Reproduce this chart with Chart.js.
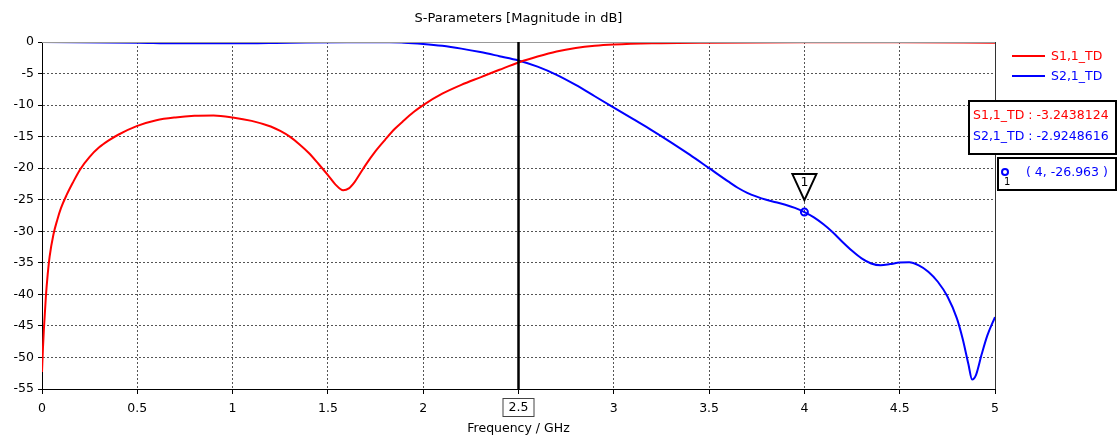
<!DOCTYPE html>
<html>
<head>
<meta charset="utf-8">
<script src="https://cdn.jsdelivr.net/npm/chart.js@4/dist/chart.umd.min.js"></script>
<style>
  html, body { margin: 0; padding: 0; background: #fff; }
  #wrap { position: relative; width: 1118px; height: 439px; }
</style>
</head>
<body>
<div id="wrap"><canvas id="c" width="1118" height="439"></canvas></div>
<script>
// S1,1 samples (GHz, dB)
const s11Freq = [0, 0.005, 0.01, 0.02, 0.03, 0.04, 0.06, 0.08, 0.1, 0.13, 0.16, 0.2, 0.25, 0.3, 0.35, 0.4, 0.5, 0.6, 0.7, 0.8, 0.9, 1.0, 1.1, 1.2, 1.25, 1.3, 1.35, 1.4, 1.45, 1.5, 1.54, 1.58, 1.61, 1.64, 1.67, 1.7, 1.75, 1.8, 1.85, 1.9, 1.95, 2.0, 2.1, 2.2, 2.3, 2.4, 2.5, 2.6, 2.7, 2.8, 2.9, 3.0, 3.2, 3.5, 4.0, 4.5, 5.0];
const s11dB = [-52.3, -48.5, -45.5, -40.5, -36.8, -34, -30.5, -28.2, -26.3, -24.2, -22.4, -20.2, -18.2, -16.7, -15.6, -14.7, -13.3, -12.4, -11.95, -11.7, -11.65, -11.95, -12.5, -13.4, -14.1, -15.0, -16.2, -17.6, -19.3, -21.1, -22.6, -23.5, -23.2, -22.2, -20.8, -19.4, -17.3, -15.5, -13.8, -12.4, -11.1, -10.0, -8.2, -6.8, -5.6, -4.4, -3.24, -2.3, -1.5, -0.95, -0.6, -0.4, -0.2, -0.1, -0.05, -0.05, -0.1];

// S2,1 samples (GHz, dB)
const s21Freq = [0, 0.5, 0.7, 1.0, 1.3, 1.6, 1.8, 1.9, 2.0, 2.1, 2.2, 2.3, 2.4, 2.5, 2.6, 2.7, 2.8, 2.9, 3.0, 3.1, 3.2, 3.3, 3.4, 3.5, 3.6, 3.65, 3.7, 3.75, 3.8, 3.85, 3.9, 3.95, 4.0, 4.05, 4.1, 4.15, 4.2, 4.25, 4.3, 4.35, 4.4, 4.45, 4.5, 4.55, 4.6, 4.65, 4.7, 4.75, 4.8, 4.83, 4.86, 4.88, 4.9, 4.93, 4.96, 5.0];
const s21dB = [0, -0.1, -0.2, -0.2, -0.1, -0.02, -0.05, -0.1, -0.3, -0.6, -1.05, -1.6, -2.25, -2.92, -3.9, -5.2, -6.8, -8.6, -10.4, -12.2, -14.0, -15.9, -17.9, -20.0, -22.1, -23.1, -23.9, -24.5, -25.0, -25.4, -25.8, -26.3, -26.96, -27.8, -28.9, -30.2, -31.7, -33.1, -34.3, -35.1, -35.4, -35.2, -34.95, -34.9, -35.4, -36.4, -38.0, -40.3, -43.8, -47, -51, -53.5, -52.8, -49.5, -46.5, -43.6];

const xTicks = [0, 0.5, 1, 1.5, 2, 2.5, 3, 3.5, 4, 4.5, 5];
const yTicks = [0, -5, -10, -15, -20, -25, -30, -35, -40, -45, -50, -55];

const cursorX = 2.5;
const marker = { x: 4, y: -26.963 };
const readout = ['S1,1_TD : -3.2438124', 'S2,1_TD : -2.9248616'];

const FONT = '"DejaVu Sans", sans-serif';

function pts(xs, ys) {
    return xs.map((x, i) => ({ x: x, y: ys[i] }));
}

const overlay = {
    id: 'overlay',
    afterDraw(chart) {
        const ctx = chart.ctx;
        const a = chart.chartArea;
        const xs = chart.scales.x, ys = chart.scales.y;
        ctx.save();

        // titles
        ctx.fillStyle = '#000';
        ctx.font = '13px ' + FONT;
        ctx.textAlign = 'center';
        ctx.textBaseline = 'middle';
        ctx.fillText('S-Parameters [Magnitude in dB]', (a.left + a.right) / 2, 19);
        ctx.font = '12.5px ' + FONT;
        ctx.fillText('Frequency / GHz', (a.left + a.right) / 2, 429);

        // frame
        ctx.lineWidth = 1;
        ctx.strokeStyle = '#999';
        ctx.beginPath();
        ctx.moveTo(a.left, a.top + 0.5); ctx.lineTo(a.right, a.top + 0.5);
        ctx.stroke();
        ctx.strokeStyle = '#333';
        ctx.beginPath();
        ctx.moveTo(a.right + 0.5, a.top); ctx.lineTo(a.right + 0.5, a.bottom);
        ctx.stroke();

        // cursor line
        const cx = xs.getPixelForValue(cursorX);
        ctx.strokeStyle = '#000';
        ctx.lineWidth = 2.5;
        ctx.beginPath();
        ctx.moveTo(cx, a.top); ctx.lineTo(cx, a.bottom);
        ctx.stroke();

        // boxed 2.5 tick label
        ctx.lineWidth = 1;
        ctx.strokeStyle = '#444';
        ctx.fillStyle = '#fff';
        ctx.fillRect(cx - 16, 398, 32, 19);
        ctx.strokeRect(cx - 15.5, 398.5, 31, 18);
        ctx.fillStyle = '#000';
        ctx.font = '12.5px ' + FONT;
        ctx.fillText('2.5', cx, 408);

        // marker on S2,1
        const mx = xs.getPixelForValue(marker.x), my = ys.getPixelForValue(marker.y);
        ctx.strokeStyle = '#0000ff';
        ctx.lineWidth = 2;
        ctx.beginPath();
        ctx.arc(mx, my, 3.5, 0, Math.PI * 2);
        ctx.stroke();
        ctx.fillStyle = '#fff';
        ctx.strokeStyle = '#000';
        ctx.lineWidth = 2;
        ctx.beginPath();
        ctx.moveTo(mx - 12, my - 38);
        ctx.lineTo(mx + 12, my - 38);
        ctx.lineTo(mx, my - 12);
        ctx.closePath();
        ctx.fill();
        ctx.stroke();
        ctx.fillStyle = '#000';
        ctx.font = '12.5px ' + FONT;
        ctx.fillText('1', mx, my - 29);

        // legend
        ctx.lineWidth = 2;
        ctx.textAlign = 'left';
        chart.data.datasets.forEach((ds, i) => {
            const ly = 56 + i * 20;
            ctx.strokeStyle = ds.borderColor;
            ctx.beginPath();
            ctx.moveTo(1012, ly); ctx.lineTo(1045, ly);
            ctx.stroke();
            ctx.fillStyle = ds.borderColor;
            ctx.fillText(ds.label, 1051, ly + 1);
        });

        // readout box
        ctx.strokeStyle = '#000';
        ctx.lineWidth = 2;
        ctx.fillStyle = '#fff';
        ctx.fillRect(969, 101, 147, 53);
        ctx.strokeRect(969, 101, 147, 53);
        readout.forEach((t, i) => {
            ctx.fillStyle = chart.data.datasets[i].borderColor;
            ctx.fillText(t, 973, 116 + i * 21);
        });

        // marker box
        ctx.fillStyle = '#fff';
        ctx.fillRect(998, 158, 118, 32);
        ctx.strokeRect(998, 158, 118, 32);
        ctx.strokeStyle = '#0000ff';
        ctx.beginPath();
        ctx.arc(1005, 172, 3, 0, Math.PI * 2);
        ctx.stroke();
        ctx.fillStyle = '#000';
        ctx.font = '10px ' + FONT;
        ctx.fillText('1', 1004, 182);
        ctx.fillStyle = '#0000ff';
        ctx.font = '12.5px ' + FONT;
        ctx.fillText('( ' + marker.x + ', ' + marker.y + ' )', 1026, 173);

        ctx.restore();
    }
};

new Chart(document.getElementById('c').getContext('2d'), {
    type: 'line',
    data: {
        datasets: [
            { label: 'S1,1_TD', data: pts(s11Freq, s11dB), borderColor: '#ff0000', borderWidth: 2, pointRadius: 0, cubicInterpolationMode: 'monotone', fill: false },
            { label: 'S2,1_TD', data: pts(s21Freq, s21dB), borderColor: '#0000ff', borderWidth: 2, pointRadius: 0, cubicInterpolationMode: 'monotone', fill: false }
        ]
    },
    options: {
        responsive: false,
        animation: false,
        layout: { padding: { top: 42, right: 123, left: 0, bottom: 0 } },
        plugins: { legend: { display: false }, tooltip: { enabled: false }, title: { display: false } },
        scales: {
            x: {
                type: 'linear', min: 0, max: 5,
                afterBuildTicks: s => { s.ticks = xTicks.map(v => ({ value: v })); },
                afterFit: s => { s.height = 50; },
                ticks: {
                    color: '#000', font: { family: FONT, size: 12.5 }, padding: 7,
                    maxRotation: 0,
                    callback: v => v === cursorX ? '' : String(v)
                },
                grid: { color: '#555', lineWidth: 1, tickLength: 5, tickColor: '#000' },
                border: { color: '#000', width: 1, dash: [2, 2] }
            },
            y: {
                min: -55, max: 0,
                afterBuildTicks: s => { s.ticks = yTicks.map(v => ({ value: v })); },
                afterFit: s => { s.width = 42; },
                ticks: { color: '#000', font: { family: FONT, size: 12.5 }, padding: 4 },
                grid: { color: '#555', lineWidth: 1, tickLength: 4, tickColor: '#000' },
                border: { color: '#000', width: 1, dash: [2, 2] }
            }
        }
    },
    plugins: [overlay]
});
</script>
</body>
</html>
